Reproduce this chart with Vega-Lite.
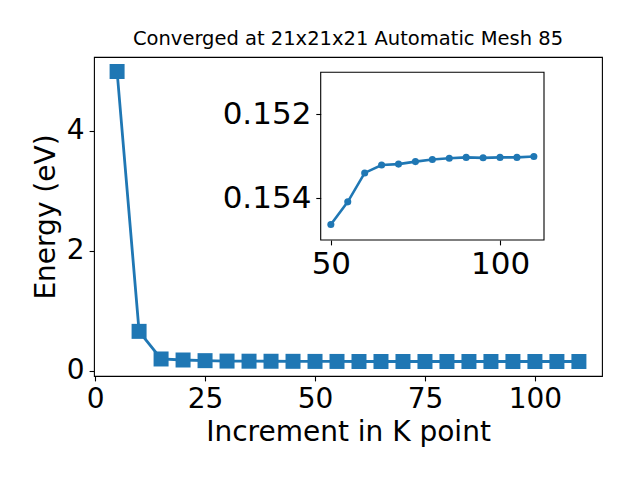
{
  "$schema": "https://vega.github.io/schema/vega-lite/v6.json",
  "width": 508,
  "height": 319,
  "autosize": {"type": "none"},
  "padding": {"left": 94, "top": 57, "right": 38, "bottom": 104},
  "title": {"text": "Converged at 21x21x21 Automatic Mesh 85", "fontSize": 19.5, "font": "DejaVu Sans", "fontWeight": "normal", "color": "black", "offset": 8},
  "data": {"values": [
    {"k": 5, "e": 4.983},
    {"k": 10, "e": 0.655},
    {"k": 15, "e": 0.195},
    {"k": 20, "e": 0.178},
    {"k": 25, "e": 0.167},
    {"k": 30, "e": 0.16},
    {"k": 35, "e": 0.158},
    {"k": 40, "e": 0.157},
    {"k": 45, "e": 0.156},
    {"k": 50, "e": 0.15463},
    {"k": 55, "e": 0.15409},
    {"k": 60, "e": 0.1534},
    {"k": 65, "e": 0.15321},
    {"k": 70, "e": 0.15319},
    {"k": 75, "e": 0.15313},
    {"k": 80, "e": 0.15308},
    {"k": 85, "e": 0.15305},
    {"k": 90, "e": 0.15303},
    {"k": 95, "e": 0.15304},
    {"k": 100, "e": 0.15303},
    {"k": 105, "e": 0.15303},
    {"k": 110, "e": 0.15301}
  ]},
  "config": {
    "view": {"stroke": "black", "strokeWidth": 1.1},
    "axis": {"grid": false, "domain": false, "labelFont": "DejaVu Sans", "titleFont": "DejaVu Sans", "labelColor": "black", "titleColor": "black", "tickColor": "black", "labelFontSize": 28, "titleFontSize": 28, "titleFontWeight": "normal", "tickSize": 4.9, "tickWidth": 1.1, "labelPadding": 4.9}
  },
  "layer": [
    {
      "encoding": {
        "x": {"field": "k", "type": "quantitative", "scale": {"domain": [-0.25, 115.25], "nice": false, "zero": false}, "axis": {"values": [0, 25, 50, 75, 100], "title": "Increment in K point", "titlePadding": 5}},
        "y": {"field": "e", "type": "quantitative", "scale": {"domain": [-0.0885, 5.2245], "nice": false, "zero": false}, "axis": {"values": [0, 2, 4], "title": "Energy (eV)", "titlePadding": 6}}
      },
      "layer": [
        {"mark": {"type": "line", "color": "#1f77b4", "strokeWidth": 2.8}},
        {"mark": {"type": "point", "shape": "square", "filled": true, "size": 225, "color": "#1f77b4", "opacity": 1}}
      ]
    },
    {
      "layer": [
        {
          "data": {"values": [{}]},
          "mark": {"type": "rect", "filled": false, "stroke": "black", "strokeWidth": 1.1},
          "encoding": {
            "x": {"datum": 47, "type": "quantitative", "scale": {"domain": [47, 113], "range": [226.7, 450], "nice": false, "zero": false}, "axis": {"orient": "bottom", "offset": -136, "values": [50, 100], "labelFontSize": 31, "title": null}},
            "x2": {"datum": 113},
            "y": {"datum": 0.151, "type": "quantitative", "scale": {"domain": [0.151, 0.155], "range": [15.3, 183], "nice": false, "zero": false}, "axis": {"orient": "left", "offset": -226.7, "values": [0.152, 0.154], "format": ".3f", "labelFontSize": 31, "title": null}},
            "y2": {"datum": 0.155}
          }
        },
        {
          "transform": [{"filter": "datum.k >= 50"}],
          "encoding": {
            "x": {"field": "k", "type": "quantitative", "scale": {"domain": [47, 113], "range": [226.7, 450], "nice": false, "zero": false}, "axis": {"orient": "bottom", "offset": -136, "values": [50, 100], "labelFontSize": 31, "title": null}},
            "y": {"field": "e", "type": "quantitative", "scale": {"domain": [0.151, 0.155], "range": [15.3, 183], "nice": false, "zero": false}, "axis": {"orient": "left", "offset": -226.7, "values": [0.152, 0.154], "format": ".3f", "labelFontSize": 31, "title": null}}
          },
          "layer": [
            {"mark": {"type": "line", "color": "#1f77b4", "strokeWidth": 2.6}},
            {"mark": {"type": "point", "shape": "circle", "filled": true, "size": 50, "color": "#1f77b4", "opacity": 1}}
          ]
        }
      ]
    }
  ],
  "resolve": {"scale": {"x": "independent", "y": "independent"}}
}
